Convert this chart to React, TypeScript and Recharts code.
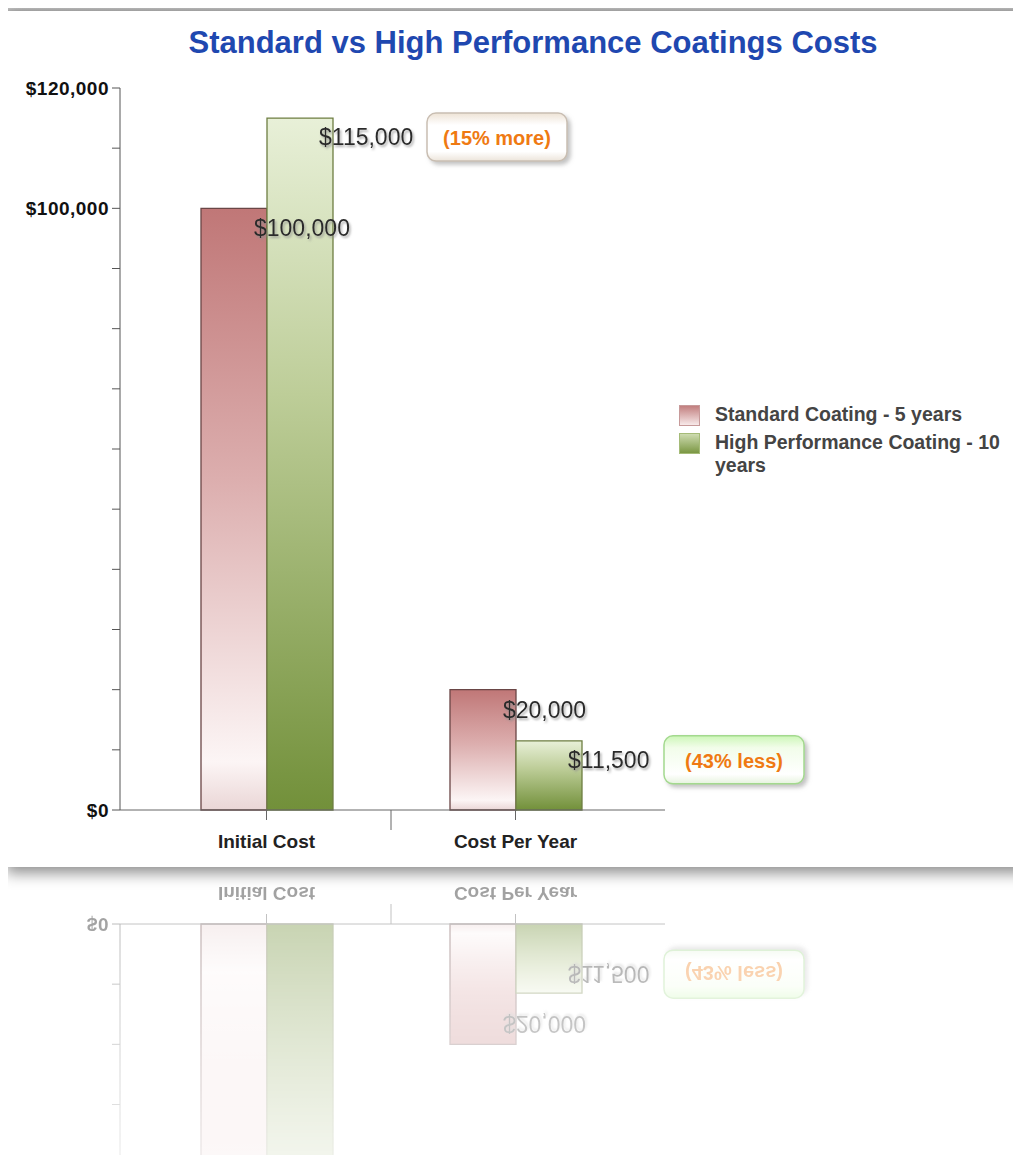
import React from 'react';
import { BarChart, Bar, XAxis, YAxis, LabelList } from 'recharts';

const categories = ['Initial Cost', 'Cost Per Year'];
const standardCosts = [100000, 20000];
const highPerfCosts = [115000, 11500];
const diffNotes = ['(15% more)', '(43% less)'];
const seriesNames = ['Standard Coating - 5 years', 'High Performance Coating - 10 years'];
const yTicks = [0, 10000, 20000, 30000, 40000, 50000, 60000, 70000, 80000, 90000, 100000, 110000, 120000];
const labeledTicks = [0, 100000, 120000];

const data = categories.map((name, i) => ({
  name,
  standard: standardCosts[i],
  high: highPerfCosts[i],
}));

const FONT = '"Liberation Sans", Arial, sans-serif';
const money = (v: number) => '$' + v.toLocaleString('en-US');

// note boxes: first one warm/beige, second one green
const noteStyles = [
  { grad: 'noteWarm', stroke: '#c9beb2' },
  { grad: 'noteGreen', stroke: '#a3d98e' },
];

const ValueText = ({ x, y, width, value }: any) => {
  const tx = Number(x) + Number(width) - 13;
  const ty = Number(y) + 20;
  return (
    <text x={tx} y={ty} fontFamily={FONT} fontSize={23} fill="#2a2a2a"
      dominantBaseline="central" filter="url(#txtShadow)">
      {money(Number(value))}
    </text>
  );
};

const ValueWithNote = (props: any) => {
  const { x, y, width, value, index } = props;
  const label = money(Number(value));
  const tx = Number(x) + Number(width) - 14;
  const ty = Number(y) + 19;
  const bx = tx + label.length * 12 + 12;
  const st = noteStyles[index] || noteStyles[0];
  return (
    <g>
      <text x={tx} y={ty} fontFamily={FONT} fontSize={23} fill="#2a2a2a"
        dominantBaseline="central" filter="url(#txtShadow)">
        {label}
      </text>
      <rect x={bx} y={ty - 24} width={140} height={48} rx={9} ry={9}
        fill={`url(#${st.grad})`} stroke={st.stroke} strokeWidth={1.5} filter="url(#boxShadow)" />
      <text x={bx + 70} y={ty + 1} textAnchor="middle" dominantBaseline="central"
        fontFamily={FONT} fontWeight="bold" fontSize={20} fill="#ef7a12">
        {diffNotes[index]}
      </text>
    </g>
  );
};

const CategoryTick = ({ x, y, payload, index }: any) => (
  <g>
    <line x1={x} y1={y} x2={x} y2={y + 10} stroke="#666" />
    {index === 0 && <line x1={x + 124.5} y1={y} x2={x + 124.5} y2={y + 20} stroke="#666" />}
    <text x={x} y={y + 31} textAnchor="middle" dominantBaseline="central"
      fontFamily={FONT} fontWeight="bold" fontSize={19} fill="#222">
      {payload.value}
    </text>
  </g>
);

// only a few of the y ticks carry a label
const ValueTick = ({ x, y, payload }: any) => {
  if (!labeledTicks.includes(payload.value)) return <g />;
  return (
    <text x={x} y={y} textAnchor="end" dominantBaseline="central" fontFamily={FONT}
      fontWeight="bold" fontSize={19} fill="#111" letterSpacing={0.5}>
      {money(payload.value)}
    </text>
  );
};

const swatches = [
  'linear-gradient(to bottom, #c27f7f, #f7e9e9)',
  'linear-gradient(to bottom, #cddbb0, #7b9743)',
];
const swatchBorders = ['#c79a9a', '#a5bb78'];

const LegendBox = () => (
  <div style={{ position: 'absolute', left: 679, top: 403, width: 340, fontFamily: FONT, fontWeight: 'bold', fontSize: 19.5, color: '#444' }}>
    {seriesNames.map((n, i) => (
      <div key={n} style={{ display: 'flex', alignItems: 'flex-start', marginBottom: 5 }}>
        <div style={{
          width: 19, height: 19, marginTop: 2, marginRight: 15, flexShrink: 0,
          background: swatches[i], border: `1px solid ${swatchBorders[i]}`,
        }} />
        <div style={{ width: 300, lineHeight: '23px' }}>{n}</div>
      </div>
    ))}
  </div>
);

function CostChart() {
  return (
    <BarChart width={1021} height={867} data={data} barGap={0} barSize={66}
      margin={{ top: 88, right: 356, bottom: 27, left: 10 }}>
      <defs>
        <linearGradient id="redFill" x1="0" y1="0" x2="0" y2="1">
          <stop offset="0%" stopColor="#c07777" />
          <stop offset="45%" stopColor="#dcaeae" />
          <stop offset="92%" stopColor="#fcf5f5" />
          <stop offset="100%" stopColor="#ead6d6" />
        </linearGradient>
        <linearGradient id="greenFill" x1="0" y1="0" x2="0" y2="1">
          <stop offset="0%" stopColor="#e8f0d8" />
          <stop offset="40%" stopColor="#bdcd98" />
          <stop offset="100%" stopColor="#72903a" />
        </linearGradient>
        <linearGradient id="noteWarm" x1="0" y1="0" x2="0" y2="1">
          <stop offset="0%" stopColor="#eee3d6" />
          <stop offset="25%" stopColor="#ffffff" />
          <stop offset="80%" stopColor="#ffffff" />
          <stop offset="100%" stopColor="#ece4da" />
        </linearGradient>
        <linearGradient id="noteGreen" x1="0" y1="0" x2="0" y2="1">
          <stop offset="0%" stopColor="#cdf7b8" />
          <stop offset="25%" stopColor="#f2fdea" />
          <stop offset="80%" stopColor="#ffffff" />
          <stop offset="100%" stopColor="#e6f3de" />
        </linearGradient>
        <filter id="txtShadow" x="-10%" y="-30%" width="130%" height="170%">
          <feDropShadow dx="1.5" dy="2" stdDeviation="1.3" floodColor="#8a8a8a" floodOpacity="0.7" />
        </filter>
        <filter id="boxShadow" x="-10%" y="-20%" width="130%" height="160%">
          <feDropShadow dx="3" dy="3" stdDeviation="2" floodColor="#9a9a9a" floodOpacity="0.6" />
        </filter>
      </defs>
      <XAxis dataKey="name" padding={{ left: 22, right: 25 }} height={30}
        tickSize={0} tickMargin={0} tickLine={false}
        axisLine={{ stroke: '#666' }} tick={<CategoryTick />} interval={0} />
      <YAxis width={110} domain={[0, 120000]} ticks={yTicks} interval={0}
        tickSize={8} tickMargin={3} axisLine={{ stroke: '#555' }} tickLine={{ stroke: '#555' }}
        tick={<ValueTick />} />
      <Bar dataKey="standard" name={seriesNames[0]} fill="url(#redFill)" stroke="#6a4646"
        strokeWidth={1.3} isAnimationActive={false}>
        <LabelList dataKey="standard" content={<ValueText />} />
      </Bar>
      <Bar dataKey="high" name={seriesNames[1]} fill="url(#greenFill)" stroke="#6e7e42"
        strokeWidth={1.3} isAnimationActive={false}>
        <LabelList dataKey="high" content={<ValueWithNote />} />
      </Bar>
    </BarChart>
  );
}

export default function App() {
  return (
    <div style={{ position: 'relative', width: 1021, height: 1163, margin: -8, background: '#fff', overflow: 'hidden', fontFamily: FONT }}>
      {/* reflection under the card */}
      <div style={{
        position: 'absolute', left: 0, top: 867, width: 1021, height: 296, overflow: 'hidden',
        WebkitMaskImage: 'linear-gradient(to bottom, rgba(0,0,0,0.45), rgba(0,0,0,0.12))',
        maskImage: 'linear-gradient(to bottom, rgba(0,0,0,0.45), rgba(0,0,0,0.12))',
      }}>
        <div style={{ position: 'absolute', left: 0, top: -867, width: 1021, height: 867, transform: 'scaleY(-1)', transformOrigin: '50% 100%' }}>
          <CostChart />
        </div>
      </div>
      {/* card with its shadow */}
      <div style={{ position: 'absolute', left: 0, top: 0, width: 1021, height: 14, background: 'linear-gradient(to bottom, #e6e6e6, #b5b5b5)' }} />
      <div style={{
        position: 'absolute', left: 8, top: 11, width: 1020, height: 856, background: '#fff',
        boxShadow: '0 4px 14px 2px rgba(0,0,0,0.45)',
      }} />
      <div style={{ position: 'absolute', left: 0, top: 0, width: 8, height: 1163, background: 'linear-gradient(to right, #c4c4c4, #e2e2e2)' }} />
      <div style={{
        position: 'absolute', left: 533, top: 25, transform: 'translateX(-50%)', whiteSpace: 'nowrap',
        fontWeight: 'bold', fontSize: 31, color: '#1f48b0',
      }}>
        Standard vs High Performance Coatings Costs
      </div>
      <div style={{ position: 'absolute', left: 0, top: 0 }}>
        <CostChart />
      </div>
      <LegendBox />
    </div>
  );
}
